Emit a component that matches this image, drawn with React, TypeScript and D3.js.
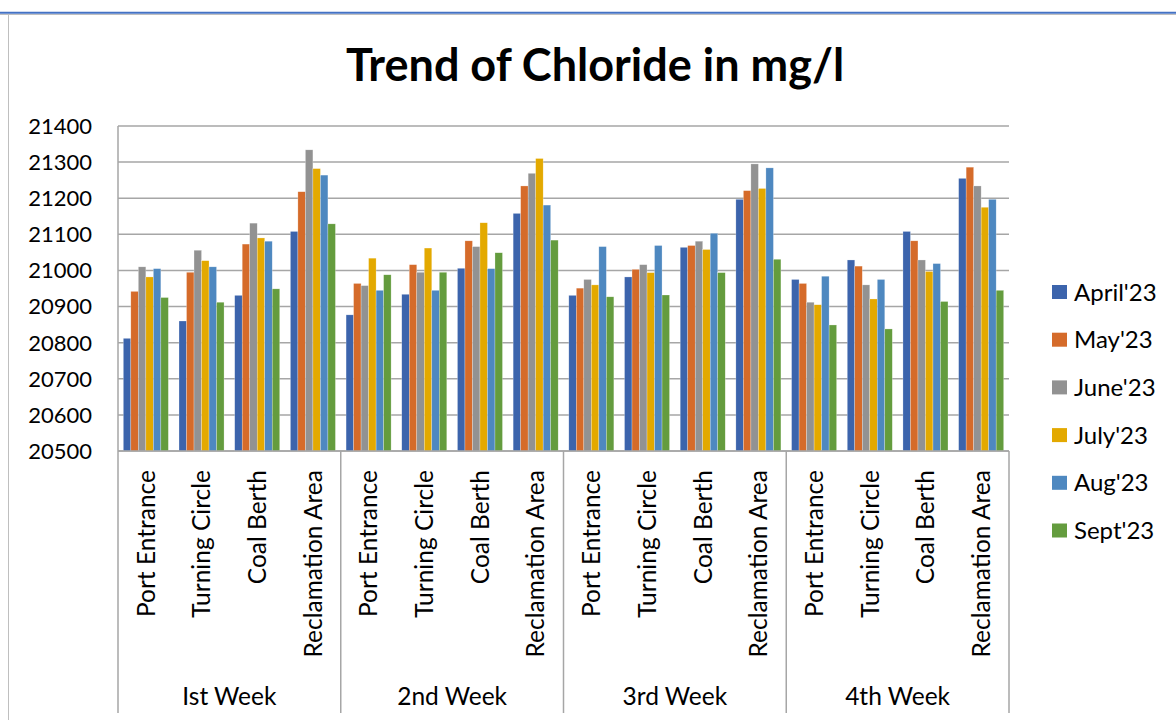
import React from "react";
import * as d3 from "d3";

const weeks = ["Ist Week", "2nd Week", "3rd Week", "4th Week"];
const sites = ["Port Entrance", "Turning Circle", "Coal Berth", "Reclamation Area"];
const months = ["April'23", "May'23", "June'23", "July'23", "Aug'23", "Sept'23"];
const colors = ["#3C64AC", "#D56B2A", "#929292", "#E3A900", "#4E88C0", "#649C3E"];
const yTicks = [20500, 20600, 20700, 20800, 20900, 21000, 21100, 21200, 21300, 21400];

// values per month, in order week1 (PE, TC, CB, RA), week2 ..., week4
const april = [20812, 20860, 20931, 21108, 20877, 20934, 21006, 21158, 20931, 20982, 21064, 21197, 20975, 21029, 21108, 21255];
const may = [20942, 20995, 21073, 21218, 20964, 21016, 21082, 21234, 20951, 21003, 21069, 21221, 20964, 21012, 21082, 21286];
const june = [21010, 21056, 21131, 21334, 20958, 20995, 21066, 21269, 20975, 21016, 21081, 21295, 20912, 20960, 21029, 21234];
const july = [20982, 21027, 21090, 21282, 21034, 21062, 21132, 21310, 20960, 20994, 21058, 21227, 20905, 20921, 20997, 21175];
const aug = [21005, 21010, 21081, 21264, 20945, 20945, 21005, 21181, 21066, 21069, 21103, 21284, 20984, 20975, 21019, 21197];
const sept = [20925, 20912, 20949, 21129, 20988, 20995, 21049, 21084, 20927, 20932, 20994, 21031, 20849, 20838, 20914, 20945];

const series = [april, may, june, july, aug, sept];

const FONT = "Lato, 'Open Sans', sans-serif";

export default function App() {
  const margin = { top: 126, left: 118, right: 1009, bottom: 451 };

  const x0 = d3.scaleBand().domain(weeks).range([margin.left, margin.right]);
  const x1 = d3.scaleBand().domain(sites).range([0, x0.bandwidth()]);
  const x2 = d3.scaleBand().domain(months).range([0, x1.bandwidth()]).paddingOuter(0.71);
  const y = d3.scaleLinear().domain([20500, 21400]).range([margin.bottom, margin.top]);

  const axisColor = "#A6A6A6";

  return (
    <svg width={1176} height={720} style={{ position: "absolute", left: 0, top: 0, background: "#fff" }}>
      {/* page frame */}
      <line x1={0} x2={1176} y1={12.8} y2={12.8} stroke="#4472C4" strokeWidth={2} />
      <line x1={0} x2={1176} y1={14.5} y2={14.5} stroke="#BFBFBF" strokeWidth={1} />
      <line x1={8.5} x2={8.5} y1={14} y2={720} stroke="#BFBFBF" strokeWidth={1} />

      <text x={595} y={81} textAnchor="middle" fontFamily={FONT} fontWeight="bold" fontSize={45} fill="#000">
        Trend of Chloride in mg/l
      </text>

      {/* gridlines */}
      {yTicks.map((t) => (
        <line key={t} x1={margin.left} x2={margin.right} y1={y(t)} y2={y(t)} stroke={axisColor} strokeWidth={1.5} />
      ))}
      {yTicks.map((t) => (
        <text key={"l" + t} x={92} y={y(t)} dy="0.36em" textAnchor="end" fontFamily={FONT} fontSize={22} fill="#000">
          {t}
        </text>
      ))}
      <line x1={margin.left} x2={margin.left} y1={margin.top} y2={713} stroke={axisColor} strokeWidth={1.5} />

      {/* bars */}
      {weeks.map((w, wi) =>
        sites.map((s, si) =>
          series.map((vals, mi) => {
            const v = vals[wi * sites.length + si];
            const bx = (x0(w) as number) + (x1(s) as number) + (x2(months[mi]) as number);
            return (
              <rect
                key={w + s + mi}
                x={bx}
                y={y(v)}
                width={x2.bandwidth()}
                height={y(20500) - y(v)}
                fill={colors[mi]}
                stroke="#fff"
                strokeOpacity={0.5}
                strokeWidth={0.5}
              />
            );
          })
        )
      )}

      {/* category axis */}
      <line x1={margin.left} x2={margin.right} y1={margin.bottom} y2={margin.bottom} stroke={axisColor} strokeWidth={1.5} />
      {weeks.map((w) => (
        <line key={"d" + w} x1={(x0(w) as number) + x0.bandwidth()} x2={(x0(w) as number) + x0.bandwidth()} y1={margin.bottom} y2={713} stroke={axisColor} strokeWidth={1.5} />
      ))}
      {weeks.map((w) =>
        sites.map((s) => {
          const cx = (x0(w) as number) + (x1(s) as number) + x1.bandwidth() / 2;
          return (
            <text key={"c" + w + s} transform={`translate(${cx},470) rotate(-90)`} dy="0.36em" textAnchor="end" fontFamily={FONT} fontSize={24.5} fill="#000">
              {s}
            </text>
          );
        })
      )}
      {weeks.map((w) => (
        <text key={"w" + w} x={(x0(w) as number) + x0.bandwidth() / 2} y={705} textAnchor="middle" fontFamily={FONT} fontSize={24.5} fill="#000">
          {w}
        </text>
      ))}

      {/* legend */}
      {months.map((m, i) => (
        <g key={m} transform={`translate(1052,${292 + i * 47.7})`}>
          <rect x={0} y={-7} width={15} height={14} fill={colors[i]} />
          <text x={22} y={0} dy="0.36em" fontFamily={FONT} fontSize={24} fill="#000">
            {m}
          </text>
        </g>
      ))}
    </svg>
  );
}
